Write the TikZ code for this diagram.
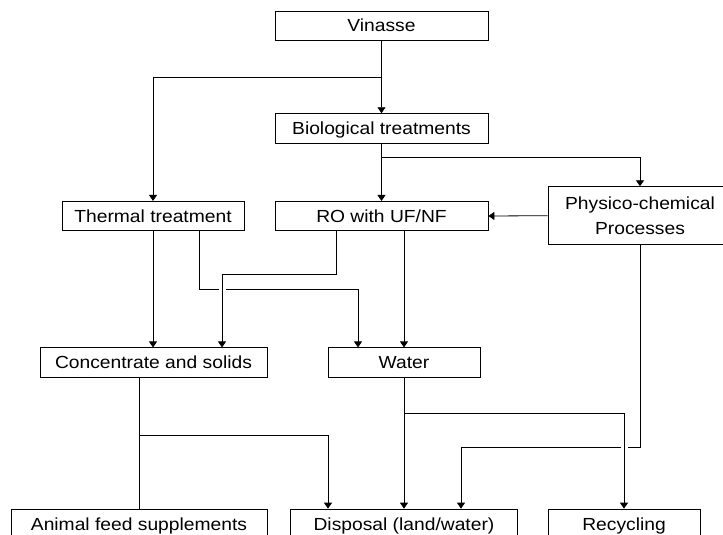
\documentclass[tikz,border=0pt]{standalone}
\usepackage{fontspec}
\setmainfont{Liberation Sans}[FakeStretch=1.1]
\usetikzlibrary{arrows.meta}

\begin{document}
\begin{tikzpicture}[x=1pt,y=-1pt,
box/.style={rectangle, draw, line width=0.8pt, inner sep=0pt, font=\fontsize{17.5}{24.5}\selectfont},
one/.style={box, minimum height=29.3pt, text height=12.6pt, text depth=0pt},
arr/.style={line width=0.8pt, -{Triangle[width=8pt,length=6pt]}},
ln/.style={line width=0.8pt},
gap/.style={preaction={draw=white, arrows=-, line width=7pt, shorten <=3pt, shorten >=9pt}}]

\useasboundingbox (0,0) rectangle (723,535);

\node[one, minimum width=213pt] at (381.5,25.7) (vinasse) {Vinasse};
\node[one, minimum width=213pt] at (381.5,128.3) (bio) {Biological treatments};

\node[one, minimum width=182pt] at (153,216) (thermal) {Thermal treatment};
\node[one, minimum width=213pt] at (381.5,216) (ro) {RO with UF/NF};
\node[box, minimum width=184pt, minimum height=58pt, align=center] at (640,215.7) (physico) {Physico-chemical\\Processes};

\node[one, minimum width=227pt] at (153.5,362.5) (conc) {Concentrate and solids};
\node[one, minimum width=152pt] at (404,362.5) (water) {Water};

\node[one, minimum width=256pt] at (139,523.7) (feed) {Animal feed supplements};
\node[one, minimum width=227pt] at (404,523.7) (disp) {Disposal (land/water)};
\node[one, minimum width=152pt] at (624,523.7) (recyc) {Recycling};

% top part
\draw[arr] (vinasse.south) -- (bio.north);
\draw[arr] (vinasse.south) -- ++(0,36.7) -| (thermal.north);
\draw[arr] (bio.south) -- (ro.north);
\draw[arr] (bio.south) -- ++(0,14) -| (physico.north);
\draw[arr] (physico.west) -- (ro.east);

% middle part
\draw[arr] (thermal.south) -- (thermal.south |- conc.north);
\draw[arr] ([xshift=46pt]thermal.south) -- ++(0,58.3) -| ([xshift=-46pt]water.north);
\draw[arr, gap] ([xshift=-45.5pt]ro.south) -- ++(0,43.8) -| ([xshift=68.5pt]conc.north);
\draw[arr] ([xshift=22.5pt]ro.south) -- (water.north);

% bottom part
\draw[arr] (physico.south) -- ++(0,202.3) -| ([xshift=57pt]disp.north);
\draw[arr, gap] (water.south) -- ++(0,36) -| (recyc.north);
\draw[arr] (water.south) -- (disp.north);
\draw[ln] (feed.north |- conc.south) -- (feed.north);
\draw[arr] (feed.north |- conc.south) -- ++(0,58) -| ([xshift=-76pt]disp.north);
\end{tikzpicture}
\end{document}
